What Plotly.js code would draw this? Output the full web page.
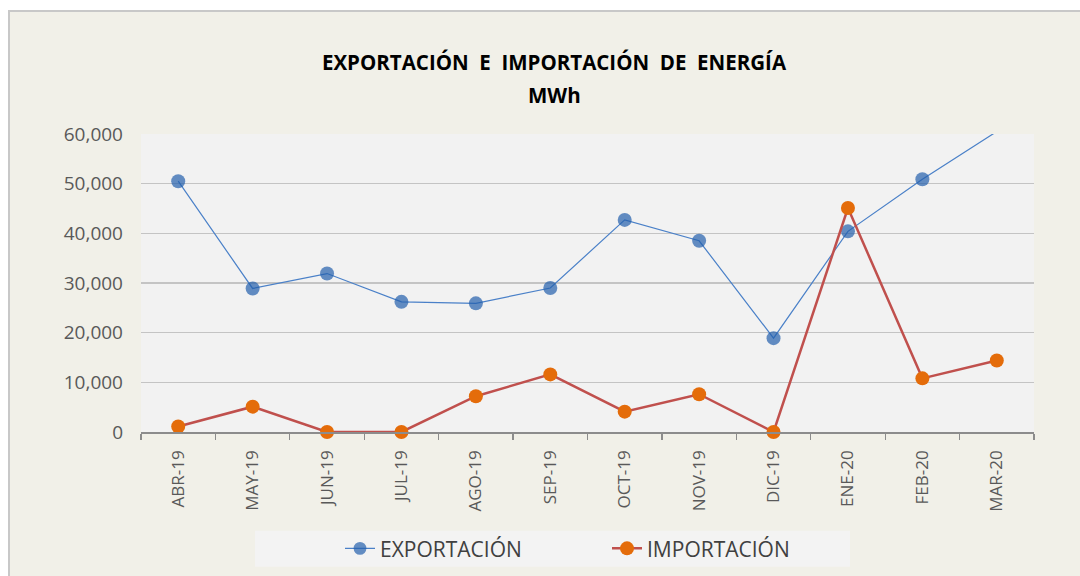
<!DOCTYPE html>
<html><head><meta charset="utf-8">
<script src="https://cdn.plot.ly/plotly-3.0.1.min.js"></script>
<style>
html,body{margin:0;padding:0;background:#ffffff;width:1080px;height:576px;overflow:hidden}
#wrap{position:absolute;left:8px;top:10px;border-left:2px solid #c8c8c8;border-top:2px solid #c8c8c8;}
#chart{width:1070px;height:564px}
</style></head><body>
<div id="wrap"><div id="chart"></div></div>
<script>
const months = ['ABR-19','MAY-19','JUN-19','JUL-19','AGO-19','SEP-19','OCT-19','NOV-19','DIC-19','ENE-20','FEB-20','MAR-20'];
const exportacion = [50500, 28900, 31900, 26200, 25900, 29000, 42700, 38500, 18900, 40400, 50900, 60500];
const importacion = [1100, 5100, 0, 0, 7200, 11600, 4100, 7600, 0, 45100, 10800, 14400];
const yTickVals = [0, 10000, 20000, 30000, 40000, 50000, 60000];
const titleLine1 = 'EXPORTACIÓN  E  IMPORTACIÓN  DE  ENERGÍA';
const titleLine2 = 'MWh';

const yMax = 60000;
const traces = [
  {
    x: months, y: exportacion, name: 'EXPORTACIÓN', type: 'scatter', mode: 'lines+markers',
    line: {color: '#4a80c8', width: 1.2},
    marker: {color: '#2460ac', size: exportacion.map(v => v > yMax ? 0 : 14), line: {width: 0}},
    cliponaxis: true
  },
  {
    x: months, y: importacion, name: 'IMPORTACIÓN', type: 'scatter', mode: 'lines+markers',
    line: {color: '#c0504d', width: 2.5},
    marker: {color: '#e46c0a', size: 14, line: {width: 0}},
    cliponaxis: false
  }
];

const layout = {
  width: 1070, height: 564,
  margin: {l: 131, r: 46, t: 122, b: 144, pad: 0, autoexpand: false},
  paper_bgcolor: '#f1f0e8',
  plot_bgcolor: '#f2f2f2',
  font: {family: 'Open Sans, sans-serif', color: '#595959'},
  title: {
    text: titleLine1,
    font: {family: 'Open Sans, sans-serif', size: 20.5, color: '#000000', weight: 'bold'},
    x: 544/1070, xref: 'container', xanchor: 'center',
    y: 1 - 51/564, yref: 'container', yanchor: 'middle'
  },
  annotations: [{
    text: titleLine2, showarrow: false,
    font: {family: 'Open Sans, sans-serif', size: 20.5, color: '#000000', weight: 'bold'},
    xref: 'paper', yref: 'paper',
    x: (544-131)/893, xanchor: 'center',
    y: (419.5-83)/297.5, yanchor: 'middle'
  }],
  xaxis: {
    type: 'category', range: [-0.5, 11.5],
    showline: true, linecolor: '#8c8c8c', linewidth: 1.5,
    ticks: 'outside', tickson: 'boundaries', ticklen: 6, tickcolor: '#8c8c8c', tickwidth: 1.2,
    tickangle: -90, tickfont: {size: 17, color: '#595959'},
    ticklabelstandoff: 10,
    showgrid: false, zeroline: false, fixedrange: true
  },
  yaxis: {
    range: [0, yMax], tickvals: yTickVals, tickformat: ',',
    showgrid: true, gridcolor: '#c4c4c4', gridwidth: 1.3,
    zeroline: false, showline: false, ticks: '',
    tickfont: {size: 19, color: '#595959'},
    ticklabelstandoff: 17, fixedrange: true
  },
  showlegend: true,
  legend: {
    orientation: 'h', bgcolor: 'rgba(0,0,0,0)',
    x: (330-131)/893, xanchor: 'left',
    y: (419.5-536)/297.5, yanchor: 'middle',
    font: {size: 21, color: '#404040'},
    entrywidth: 222, entrywidthmode: 'pixels'
  },
  shapes: [{
    type: 'rect', xref: 'paper', yref: 'paper', layer: 'below',
    x0: (245-131)/893, x1: (840-131)/893,
    y0: (419.5-518)/297.5, y1: (419.5-554)/297.5,
    fillcolor: '#f3f3f3', line: {width: 0}
  }]
};

Plotly.newPlot('chart', traces, layout, {displayModeBar: false, staticPlot: true});
</script>
</body></html>
